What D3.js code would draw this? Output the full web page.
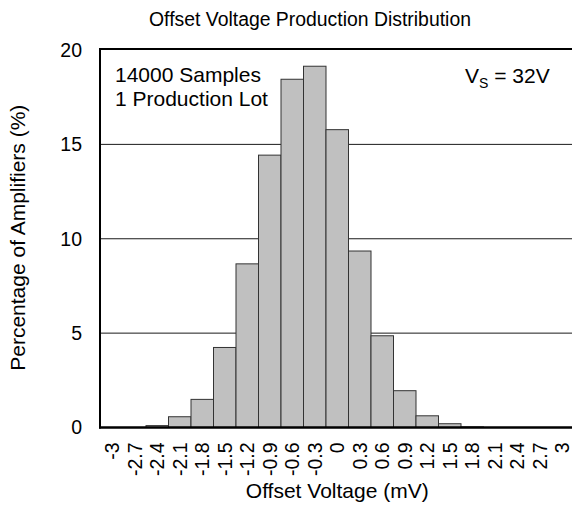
<!DOCTYPE html>
<html>
<head>
<meta charset="utf-8">
<script src="https://cdn.jsdelivr.net/npm/d3@7"></script>
<style>
  html, body { margin: 0; padding: 0; background: #fff; }
  svg { display: block; font-family: "Liberation Sans", Arial, sans-serif; }
</style>
</head>
<body>
<svg id="chart" width="572" height="507"></svg>
<script>
// ---- data ----
const categories = ["-3","-2.7","-2.4","-2.1","-1.8","-1.5","-1.2","-0.9","-0.6","-0.3","0",
                    "0.3","0.6","0.9","1.2","1.5","1.8","2.1","2.4","2.7","3"];
const percentages = [0, 0, 0.1, 0.57, 1.49, 4.24, 8.67, 14.43, 18.45, 19.14, 15.78,
                     9.35, 4.86, 1.95, 0.62, 0.2, 0.03, 0, 0, 0, 0];
const yTicks = [0, 5, 10, 15, 20];
const gridValues = [5, 10, 15];
const titleText = "Offset Voltage Production Distribution";
const xTitle = "Offset Voltage (mV)";
const yTitle = "Percentage of Amplifiers (%)";
const noteLines = ["14000 Samples", "1 Production Lot"];

// ---- layout ----
const svg = d3.select("#chart");
const pL = 101, pR = 573.5, pT = 50, pB = 427.5;

const x = d3.scaleBand().domain(categories).range([pL, pR]).padding(0);
const y = d3.scaleLinear().domain([0, 20]).range([pB, pT]);

// gridlines
svg.append("g").selectAll("line").data(gridValues).join("line")
  .attr("x1", pL).attr("x2", pR)
  .attr("y1", d => y(d)).attr("y2", d => y(d))
  .attr("stroke", "#1a1a1a").attr("stroke-width", 1);

// bars
const data = categories.map((c, i) => ({c, v: percentages[i]}));
svg.append("g").selectAll("rect").data(data.filter(d => d.v > 0)).join("rect")
  .attr("x", d => x(d.c))
  .attr("width", x.bandwidth())
  .attr("y", d => y(d.v))
  .attr("height", d => y(0) - y(d.v))
  .attr("fill", "#c0c0c0")
  .attr("stroke", "#333")
  .attr("stroke-width", 1);

// frame
svg.append("line").attr("x1", pL - 1).attr("x2", pL - 1).attr("y1", pT - 1).attr("y2", pB + 1)
  .attr("stroke", "#000").attr("stroke-width", 2);
svg.append("line").attr("x1", pL - 2).attr("x2", pR).attr("y1", pT - 1).attr("y2", pT - 1)
  .attr("stroke", "#000").attr("stroke-width", 2);
svg.append("line").attr("x1", pL - 2).attr("x2", pR).attr("y1", pB).attr("y2", pB)
  .attr("stroke", "#000").attr("stroke-width", 2.5);

// y axis labels
const yAxis = d3.axisLeft(y).tickValues(yTicks).tickSize(0).tickPadding(19).tickFormat(d3.format("d"));
const gy = svg.append("g").attr("transform", `translate(${pL},0)`).call(yAxis);
gy.select(".domain").remove();
gy.selectAll("text").attr("font-size", 19.5).attr("fill", "#000")
  .attr("font-family", "Liberation Sans, Arial, sans-serif");

// x axis labels
const xAxis = d3.axisBottom(x).tickSize(0).tickPadding(0);
const gx = svg.append("g").attr("transform", `translate(0,${pB})`).call(xAxis);
gx.select(".domain").remove();
gx.selectAll("text")
  .attr("font-size", 19.5).attr("fill", "#000")
  .attr("font-family", "Liberation Sans, Arial, sans-serif")
  .attr("text-anchor", "end")
  .attr("transform", "rotate(-90)")
  .attr("x", -15).attr("y", 0).attr("dy", "0.36em");

// titles
svg.append("text").attr("x", 310).attr("y", 26).attr("text-anchor", "middle")
  .attr("font-size", 19.4).text(titleText);
svg.append("text").attr("x", (pL + pR) / 2).attr("y", 498).attr("text-anchor", "middle")
  .attr("font-size", 21).text(xTitle);
svg.append("text").attr("transform", `translate(25,${(pT + pB) / 2 - 1}) rotate(-90)`)
  .attr("text-anchor", "middle").attr("font-size", 21).text(yTitle);

// annotations
svg.append("g").selectAll("text").data(noteLines).join("text")
  .attr("x", 115).attr("y", (d, i) => 82 + i * 23.5)
  .attr("font-size", 21).text(d => d);

const vs = svg.append("text").attr("x", 465).attr("y", 83).attr("font-size", 21);
vs.append("tspan").text("V");
vs.append("tspan").attr("font-size", 14).attr("dy", 5).text("S");
vs.append("tspan").attr("dy", -5).text(" = 32V");
</script>
</body>
</html>
